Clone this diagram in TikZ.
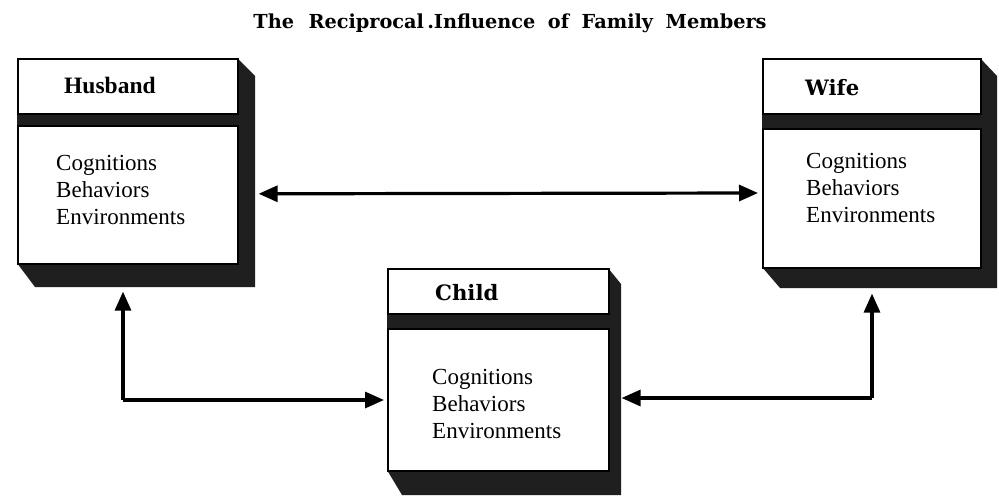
\documentclass[tikz,border=0pt]{standalone}
\usepackage{fontspec}
\setmainfont{Liberation Serif}
\newfontfamily\clar{DejaVu Serif}
\usetikzlibrary{arrows.meta}
\begin{document}
\begin{tikzpicture}[x=1pt,y=-1pt,
  shade3d/.style={fill=black!88},
  boxw/.style={draw=black,line width=1.6pt,fill=white,inner sep=0pt,anchor=north west},
  hdr/.style={font=\fontsize{23.5}{28}\selectfont\bfseries,anchor=west,inner sep=0pt},
  hdrc/.style={font=\clar\fontsize{21.2}{25}\selectfont\bfseries,anchor=west,inner sep=0pt},
  body/.style={font=\fontsize{23}{27}\selectfont,align=left,anchor=west,inner sep=0pt},
  arr/.style={line width=3.2pt,-{Triangle[length=19pt,width=16pt]}},
  dbl/.style={line width=3.2pt,{Triangle[length=19pt,width=16pt]}-{Triangle[length=19pt,width=16pt]}}]
\useasboundingbox (0,0) rectangle (999,498);
\fill[white] (0,0) rectangle (999,498);
% title
\node[font=\clar\fontsize{19.3}{22}\selectfont\bfseries,inner sep=0pt] (title) at (510,23)
  {The\hspace{0.75em}Reciprocal\,.Influence\hspace{0.65em}of\hspace{0.65em}Family\hspace{0.65em}Members};
% shadows
\fill[shade3d] (17,58) -- (237,58) -- (255,76) -- (255,287) -- (35,287) -- (17,263) -- cycle;
\fill[shade3d] (762,58) -- (980,58) -- (997,76) -- (997,288) -- (780,288) -- (762,267) -- cycle;
\fill[shade3d] (387,268) -- (608,268) -- (621,284) -- (621,495) -- (402,495) -- (387,470) -- cycle;
% husband
\node[boxw,minimum width=220pt,minimum height=55pt] (hh) at (17,58) {};
\node[boxw,minimum width=220pt,minimum height=138pt] (hb) at (17,125) {};
\node[hdr] (hl) at (64,85) {Husband};
\node[body] (ht) at (56,190) {Cognitions\\Behaviors\\Environments};
% wife
\node[boxw,minimum width=218pt,minimum height=55pt] (wh) at (762,58) {};
\node[boxw,minimum width=218pt,minimum height=139pt] (wb) at (762,128) {};
\node[hdrc] (wl) at (805,88) {Wife};
\node[body] (wt) at (806,188) {Cognitions\\Behaviors\\Environments};
% child
\node[boxw,minimum width=221pt,minimum height=45pt] (ch) at (387,268) {};
\node[boxw,minimum width=221pt,minimum height=142pt] (cb) at (387,328) {};
\node[hdrc] (cl) at (435,293) {Child};
\node[body] (ct) at (432,404) {Cognitions\\Behaviors\\Environments};
% connectors
\coordinate (c1) at (123,400);
\coordinate (c2) at (872,398);
\draw[dbl] ([xshift=20pt,yshift=1pt]hb.east) -- ([xshift=-4pt]wb.west |- 0,193);
\draw[arr] (c1) -- ([yshift=-27pt]hb.south -| c1);
\draw[arr] (c1) -- ([xshift=-3pt]cb.west |- c1);
\draw[arr] (c2) -- ([yshift=-25pt]wb.south -| c2);
\draw[arr] (c2) -- ([xshift=12pt]cb.east |- c2);
\end{tikzpicture}
\end{document}
